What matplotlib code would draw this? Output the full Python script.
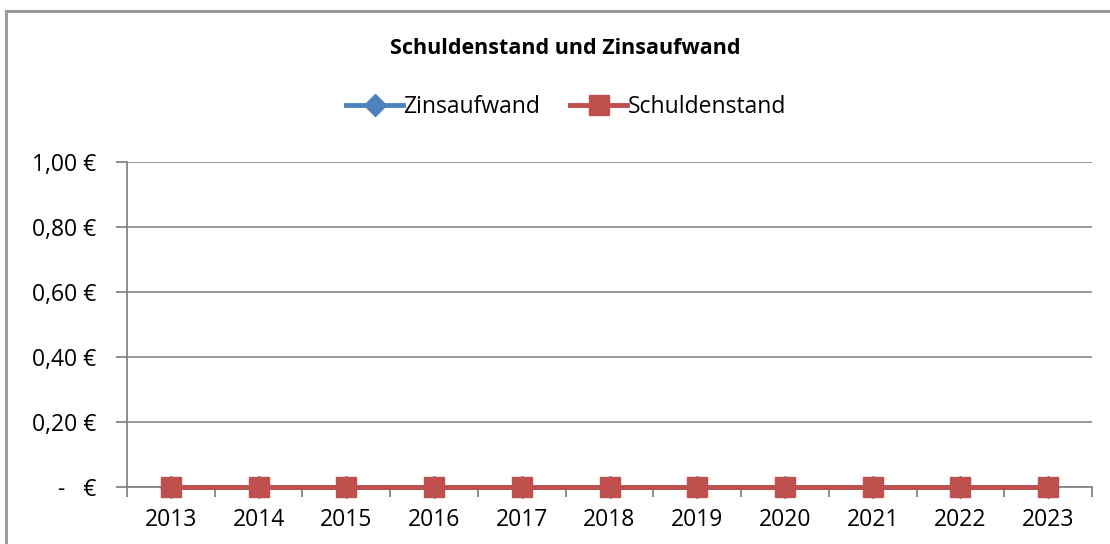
import matplotlib
matplotlib.use("Agg")
import matplotlib.pyplot as plt
from matplotlib.patches import Rectangle
from matplotlib.lines import Line2D

years = ["2013", "2014", "2015", "2016", "2017", "2018", "2019", "2020", "2021", "2022", "2023"]
zinsaufwand = [0, 0, 0, 0, 0, 0, 0, 0, 0, 0, 0]
schuldenstand = [0, 0, 0, 0, 0, 0, 0, 0, 0, 0, 0]
y_ticks = [0.0, 0.2, 0.4, 0.6, 0.8, 1.0]
y_labels = ["-   €", "0,20 €", "0,40 €", "0,60 €", "0,80 €", "1,00 €"]
title = "Schuldenstand und Zinsaufwand"

plt.rcParams['font.family'] = ['Open Sans', 'DejaVu Sans']
W, H = 1110, 544
fig = plt.figure(figsize=(W / 100, H / 100), dpi=100)
grey = "#868686"

# chart area border
fig.patches.append(Rectangle((6 / W, -0.1), 1.2, 1 - 11 / H + 0.1, transform=fig.transFigure,
                             fill=False, edgecolor="#9a9a9a", linewidth=2.2))

ax = fig.add_axes([127 / W, (H - 487) / H, 965 / W, 325 / H])
x = list(range(len(years)))
ax.plot(x, zinsaufwand, color="#4F81BD", lw=3.5, marker="D", markersize=11, clip_on=False, zorder=3)
ax.plot(x, schuldenstand, color="#C0504D", lw=3.5, marker="s", markersize=14.5, clip_on=False, zorder=4)

ax.set_xlim(-0.5, len(years) - 0.5)
ax.set_ylim(0, 1)
ax.set_yticks(y_ticks)
ax.set_yticklabels(y_labels, fontsize=16.5)
ax.set_xticks(x)
ax.set_xticklabels(years, fontsize=16.5)
ax.set_xticks([i - 0.5 for i in range(len(years) + 1)], minor=True)
ax.tick_params(axis="x", which="major", length=0, pad=15)
ax.tick_params(axis="x", which="minor", length=7, width=1.3, color=grey, direction="out")
ax.tick_params(axis="y", which="major", length=8, width=1.3, color=grey, pad=14)
ax.grid(axis="y", color=grey, lw=1.2)
ax.set_axisbelow(True)
for s in ["top", "right"]:
    ax.spines[s].set_visible(False)
for s in ["left", "bottom"]:
    ax.spines[s].set_color(grey)
    ax.spines[s].set_linewidth(1.3)

fig.text(565 / W, 1 - 48 / H, title, ha="center", va="center", fontsize=15.5, fontweight="bold")

handles = [
    Line2D([], [], color="#4F81BD", lw=3.5, marker="D", markersize=11),
    Line2D([], [], color="#C0504D", lw=3.5, marker="s", markersize=14.5),
]
fig.legend(handles, ["Zinsaufwand", "Schuldenstand"], loc="center", bbox_to_anchor=(566 / W, 1 - 107 / H),
           ncol=2, frameon=False, fontsize=16.5, handlelength=2.5, handletextpad=0.0, columnspacing=1.3)

fig.savefig("out.png", dpi=100)
